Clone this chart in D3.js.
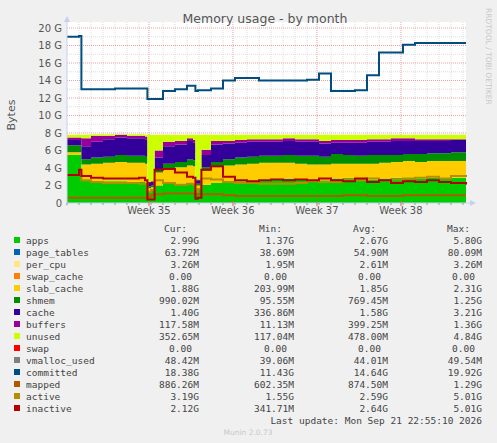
<!DOCTYPE html>
<html><head><meta charset="utf-8">
<script src="https://cdn.jsdelivr.net/npm/d3@7"></script>
<style>body{margin:0;background:#f0f0f0}svg{display:block}</style>
</head><body><div id="chart"></div>
<script>
// sample times in days from start of graph
var t = [0,1,1.2,2,3,4,5,6,6.5,6.7,7.0,7.3,8,9,10,10.5,10.7,10.9,11.2,12,13,14,15,16,17,18,19,20,21,22,23,24,25,26,27,28,29,30,31,32,33.25];

// stacked areas (G)
var apps    = [5.5,5.5,2.6,2.5,2.5,2.5,2.4,2.4,2.3,1.4,1.4,2.0,2.2,2.2,2.3,2.2,1.5,1.5,2.1,2.3,2.4,2.5,2.6,2.7,2.8,2.8,2.7,2.7,2.6,2.8,2.9,2.8,2.7,2.8,2.9,2.9,2.8,2.9,2.9,2.9,2.9];
var slab    = [0.3,0.3,1.8,2.0,2.1,2.2,2.2,2.2,2.2,0.3,0.4,1.5,1.8,1.9,2.0,2.0,0.5,0.5,1.6,1.8,1.9,1.9,1.9,1.9,1.8,1.8,1.8,1.7,1.8,1.7,1.6,1.7,1.8,1.8,1.8,1.9,1.9,1.9,1.9,1.9,1.9];
var shmem   = [0.8,0.8,0.6,0.7,0.7,0.8,0.8,0.8,0.8,0.2,0.2,0.4,0.5,0.6,0.7,0.7,0.2,0.2,0.4,0.6,0.7,0.8,0.8,0.8,0.8,0.9,0.9,1.0,0.9,1.1,1.0,0.9,1.0,0.9,0.8,0.8,0.9,0.9,0.9,1.0,1.0];
var cache   = [0.6,0.6,1.5,1.8,2.0,2.0,2.0,2.0,2.0,0.4,0.4,1.3,2.0,2.0,2.1,2.0,0.4,0.4,1.4,2.0,1.8,1.7,1.7,1.6,1.6,1.6,1.6,1.6,1.5,1.3,1.4,1.5,1.5,1.5,1.6,1.5,1.5,1.4,1.4,1.4,1.4];
var buffers = [0.3,0.3,0.9,0.7,0.4,0.3,0.3,0.3,0.3,0.1,0.1,0.8,0.5,0.4,0.3,0.3,0.1,0.1,0.6,0.4,0.3,0.3,0.3,0.3,0.3,0.3,0.3,0.3,0.3,0.3,0.3,0.3,0.3,0.3,0.3,0.3,0.2,0.2,0.2,0.1,0.12];
var unused  = [0.3,0.3,0.4,0.15,0.15,0.1,0.15,0.15,0.2,5.4,5.3,1.8,0.8,0.7,0.4,0.6,5.1,5.1,1.7,0.7,0.7,0.6,0.5,0.5,0.5,0.4,0.5,0.5,0.7,0.6,0.6,0.6,0.5,0.5,0.4,0.4,0.5,0.5,0.5,0.5,0.35];

// lines (G)
var committed = [19.0,19.1,13.0,13.0,13.0,13.1,13.1,13.1,13.1,11.9,11.9,11.9,12.8,13.0,13.4,13.4,12.8,12.9,12.9,13.1,14.0,14.3,14.3,14.0,14.0,14.0,14.0,14.1,14.8,12.8,12.8,12.9,14.6,17.2,17.2,18.1,18.3,18.3,18.3,18.3,18.3];
var mapped    = [0.6,0.6,0.6,0.6,0.6,0.6,0.6,0.6,0.6,0.7,0.9,1.0,1.1,1.1,1.1,1.1,1.0,1.0,1.0,1.0,0.9,0.8,0.8,0.8,0.8,0.8,0.8,0.8,0.8,0.8,0.9,0.9,0.8,0.8,0.8,0.9,0.9,0.9,0.9,0.9,0.9];
var active    = [3.2,3.3,2.6,2.4,2.3,2.3,2.3,2.2,2.2,1.3,1.5,2.6,2.3,2.1,2.2,2.1,1.3,1.6,2.8,2.7,2.4,2.3,2.3,2.2,2.2,2.2,2.3,2.5,2.4,2.4,2.7,2.6,2.8,2.6,2.7,2.8,2.9,3.0,2.8,3.1,3.2];
var inactive  = [3.2,3.8,3.1,2.9,2.8,2.8,2.8,2.9,2.6,0.4,0.4,3.8,3.9,3.5,3.0,2.9,0.5,0.6,3.8,4.2,3.0,2.6,2.5,2.6,2.7,2.6,2.7,2.6,2.8,2.6,2.5,2.8,2.4,2.6,2.3,2.5,2.4,2.6,2.4,2.3,2.12];

var weekLabels = ["Week 35","Week 36","Week 37","Week 38"];
var weekDays = [6.83,13.83,20.83,27.83];
var yTicks = [0,2,4,6,8,10,12,14,16,18,20];

var legendRows = [
  ["apps","#00cc00","2.99G","1.37G","2.67G","5.80G"],
  ["page_tables","#0066b3","63.72M","38.69M","54.90M","80.09M"],
  ["per_cpu","#ffe680","3.26M","1.95M","2.61M","3.26M"],
  ["swap_cache","#ff8000","0.00","0.00","0.00","0.00"],
  ["slab_cache","#ffcc00","1.88G","203.99M","1.85G","2.31G"],
  ["shmem","#008f00","990.02M","95.55M","769.45M","1.25G"],
  ["cache","#330099","1.40G","336.86M","1.58G","3.21G"],
  ["buffers","#990099","117.58M","11.13M","399.25M","1.36G"],
  ["unused","#ccff00","352.65M","117.04M","478.00M","4.84G"],
  ["swap","#ff0000","0.00","0.00","0.00","0.00"],
  ["vmalloc_used","#808080","48.42M","39.06M","44.01M","49.54M"],
  ["committed","#004d80","18.38G","11.43G","14.64G","19.92G"],
  ["mapped","#b35a00","886.26M","602.35M","874.50M","1.29G"],
  ["active","#b38f00","3.19G","1.55G","2.59G","5.01G"],
  ["inactive","#b30000","2.12G","341.71M","2.64G","5.01G"]
];

var W = 497, H = 443;
var svg = d3.select("#chart").append("svg").attr("width", W).attr("height", H);
var x0 = 67, x1 = 466, y0 = 203, y1 = 28;
var x = d3.scaleLinear().domain([0,33.25]).range([x0,x1]);
var y = d3.scaleLinear().domain([0,20]).range([y0,y1]);

svg.append("rect").attr("x",x0).attr("y",y1-6).attr("width",x1-x0).attr("height",y0-y1+6).attr("fill","#fff");

// grid
var g = svg.append("g");
d3.range(1,34).forEach(function(d){
  if (weekDays.some(function(w){return Math.abs(w-d)<0.2;})) return;
  g.append("line").attr("x1",x(d)).attr("x2",x(d)).attr("y1",y1-6).attr("y2",y0)
    .attr("stroke","#ddd").attr("stroke-dasharray","1,1");
});
d3.range(1,21).forEach(function(v){
  g.append("line").attr("x1",x0).attr("x2",x1).attr("y1",y(v)).attr("y2",y(v))
    .attr("stroke", v%2 ? "#ddd" : "#e8a0a0").attr("stroke-dasharray","1,1");
});
weekDays.forEach(function(d){
  g.append("line").attr("x1",x(d)).attr("x2",x(d)).attr("y1",y1-6).attr("y2",y0)
    .attr("stroke","#e8a0a0").attr("stroke-dasharray","1,1");
});

// stacked areas
var rows = t.map(function(d,i){return {t:d,apps:apps[i],slab:slab[i],shmem:shmem[i],cache:cache[i],buffers:buffers[i],unused:unused[i]};});
var keys = ["apps","slab","shmem","cache","buffers","unused"];
var cols = {apps:"#00cc00",slab:"#ffcc00",shmem:"#008f00",cache:"#330099",buffers:"#990099",unused:"#ccff00"};
var stack = d3.stack().keys(keys)(rows);
var area = d3.area().curve(d3.curveStepAfter).x(function(d){return x(d.data.t);}).y0(function(d){return y(d[0]);}).y1(function(d){return y(d[1]);});
svg.selectAll("path.layer").data(stack).enter().append("path").attr("class","layer")
  .attr("d",area).attr("fill",function(d){return cols[d.key];});

function drawLine(vals,col,w){
  var line = d3.line().curve(d3.curveStepAfter).x(function(d,i){return x(t[i]);}).y(function(d){return y(d);});
  svg.append("path").attr("d",line(vals)).attr("fill","none").attr("stroke",col).attr("stroke-width",w);
}
drawLine(mapped,"#b35a00",2);
drawLine(active,"#b38f00",2);
drawLine(inactive,"#b30000",2);
drawLine(committed,"#004d80",2);

// axes
svg.append("line").attr("x1",x0).attr("x2",x1+6).attr("y1",y0).attr("y2",y0).attr("stroke","#c8d0f0");
svg.append("line").attr("x1",x0).attr("x2",x0).attr("y1",y0+3).attr("y2",y1-8).attr("stroke","#c8d0f0");
svg.append("path").attr("d","M"+(x1+4)+","+(y0-3)+"L"+(x1+10)+","+y0+"L"+(x1+4)+","+(y0+3)+"Z").attr("fill","#c8d0f0");
svg.append("path").attr("d","M"+(x0-3)+","+(y1-6)+"L"+x0+","+(y1-12)+"L"+(x0+3)+","+(y1-6)+"Z").attr("fill","#c8d0f0");
d3.range(0,34).forEach(function(d){
  svg.append("line").attr("x1",x(d)).attr("x2",x(d)).attr("y1",y0).attr("y2",y0+2).attr("stroke","#999");
});
weekDays.forEach(function(d){
  svg.append("line").attr("x1",x(d)).attr("x2",x(d)).attr("y1",y0-2).attr("y2",y0+3).attr("stroke","#e06060");
});

var font = "DejaVu Sans, sans-serif";
svg.selectAll("text.yt").data(yTicks).enter().append("text")
  .attr("x",x0-5).attr("y",function(d){return y(d)+3.5;}).attr("text-anchor","end")
  .attr("font-family",font).attr("font-size",10).attr("fill","#555")
  .text(function(d){return d===0 ? "0" : d+" G";});
svg.selectAll("text.xt").data(weekLabels).enter().append("text")
  .attr("x",function(d,i){return x(weekDays[i]);}).attr("y",y0+11).attr("text-anchor","middle")
  .attr("font-family",font).attr("font-size",10).attr("fill","#555").text(function(d){return d;});

svg.append("text").attr("x",265).attr("y",23).attr("text-anchor","middle")
  .attr("font-family",font).attr("font-size",12.5).attr("fill","#555").text("Memory usage - by month");
svg.append("text").attr("transform","translate(15,115) rotate(-90)").attr("text-anchor","middle")
  .attr("font-family",font).attr("font-size",11).attr("fill","#555").text("Bytes");
svg.append("text").attr("transform","translate(486,8) rotate(90)")
  .attr("font-family",font).attr("font-size",7.5).attr("fill","#c8c8c8").text("RRDTOOL / TOBI OETIKER");

// legend
var mono = "DejaVu Sans Mono, monospace";
var colX = [199,294,388,482];
["Cur:","Min:","Avg:","Max:"].forEach(function(h,i){
  svg.append("text").attr("x",colX[i]-12).attr("y",232).attr("text-anchor","end")
    .attr("font-family",mono).attr("font-size",9.5).attr("fill","#444").text(h);
});
legendRows.forEach(function(r,i){
  var yy = 244 + i*12;
  svg.append("rect").attr("x",14).attr("y",yy-7).attr("width",6).attr("height",6).attr("fill",r[1]);
  svg.append("text").attr("x",26).attr("y",yy).attr("font-family",mono).attr("font-size",9.5).attr("fill","#444").text(r[0]);
  for (var k=0;k<4;k++){
    var v = r[k+2];
    svg.append("text").attr("x",colX[k] - (v==="0.00" ? 7 : 0)).attr("y",yy).attr("text-anchor","end")
      .attr("font-family",mono).attr("font-size",9.5).attr("fill","#444").text(v);
  }
});
svg.append("text").attr("x",482).attr("y",424).attr("text-anchor","end")
  .attr("font-family",mono).attr("font-size",9.5).attr("fill","#444").text("Last update: Mon Sep 21 22:55:10 2026");
svg.append("text").attr("x",248).attr("y",435).attr("text-anchor","middle")
  .attr("font-family",font).attr("font-size",7.5).attr("fill","#c8c8c8").text("Munin 2.0.73");
</script></body></html>
